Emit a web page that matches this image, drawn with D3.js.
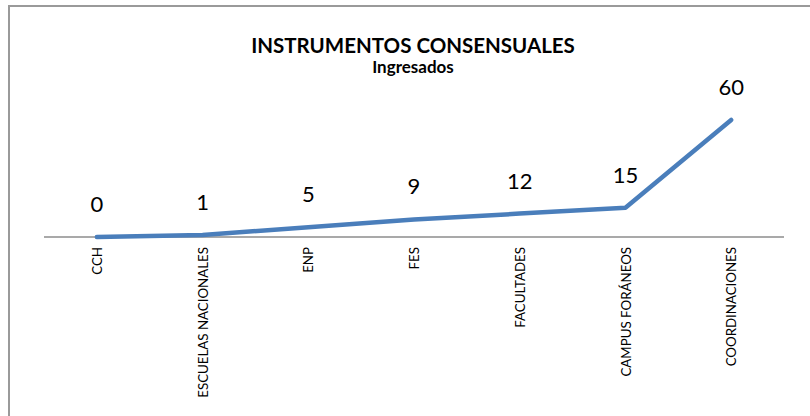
<!DOCTYPE html>
<html>
<head>
<meta charset="utf-8">
<script src="https://cdn.jsdelivr.net/npm/d3@7"></script>
<style>
  body { margin: 0; background: #fff; }
  svg text { font-family: Lato, "Open Sans", sans-serif; fill: #000; }
</style>
</head>
<body>
<div id="chart"></div>
<script>
// chart data
const categories = ["CCH", "ESCUELAS NACIONALES", "ENP", "FES", "FACULTADES", "CAMPUS FORÁNEOS", "COORDINACIONES"]
const values = [0, 1, 5, 9, 12, 15, 60]
const title = "INSTRUMENTOS CONSENSUALES"
const subtitle = "Ingresados"

const w = 810
const h = 416

const svg = d3.select("#chart")
              .append("svg")
              .attr("width", w)
              .attr("height", h)

// chart border (runs off the right and bottom edge)
svg.append("rect")
   .attr("x", 9)
   .attr("y", 6)
   .attr("width", w + 10)
   .attr("height", h + 10)
   .attr("fill", "none")
   .attr("stroke", "#9a9a9a")
   .attr("stroke-width", 2)

const xScale = d3.scalePoint()
                 .domain(categories)
                 .range([44, 784])
                 .padding(0.5)

const yScale = d3.scaleLinear()
                 .domain([0, 60])
                 .range([237, 120])

// x axis, only the baseline and rotated labels
const xAxis = d3.axisBottom(xScale).tickSize(0).tickPadding(0)
const gx = svg.append("g")
              .attr("transform", "translate(0," + yScale(0) + ")")
              .call(xAxis)
gx.select(".domain")
  .attr("d", "M44,0H784")
  .attr("stroke", "#8c8c8c")
  .attr("stroke-width", 1.5)
gx.selectAll(".tick text")
  .attr("transform", "rotate(-90)")
  .attr("x", -10)
  .attr("y", 0)
  .attr("dy", "0.35em")
  .attr("text-anchor", "end")
  .style("font-size", "13.3px")
  .style("font-family", "Lato, 'Open Sans', sans-serif")

const line = d3.line()
               .x((d, i) => xScale(categories[i]))
               .y(d => yScale(d))

svg.append("path")
   .datum(values)
   .attr("d", line)
   .attr("fill", "none")
   .attr("stroke", "#4a7ebb")
   .attr("stroke-width", 4.5)
   .attr("stroke-linecap", "round")
   .attr("stroke-linejoin", "round")

// data labels above the points
svg.selectAll(".lbl")
   .data(values)
   .enter()
   .append("text")
   .attr("class", "lbl")
   .attr("x", (d, i) => xScale(categories[i]))
   .attr("y", d => yScale(d) - 25)
   .attr("text-anchor", "middle")
   .style("font-size", "22px")
   .text(d => d)

svg.append("text")
   .attr("x", 413)
   .attr("y", 53)
   .attr("text-anchor", "middle")
   .style("font-size", "20.5px")
   .style("font-weight", "bold")
   .text(title)

svg.append("text")
   .attr("x", 413)
   .attr("y", 73)
   .attr("text-anchor", "middle")
   .style("font-size", "17px")
   .style("font-weight", "bold")
   .text(subtitle)
</script>
</body>
</html>
